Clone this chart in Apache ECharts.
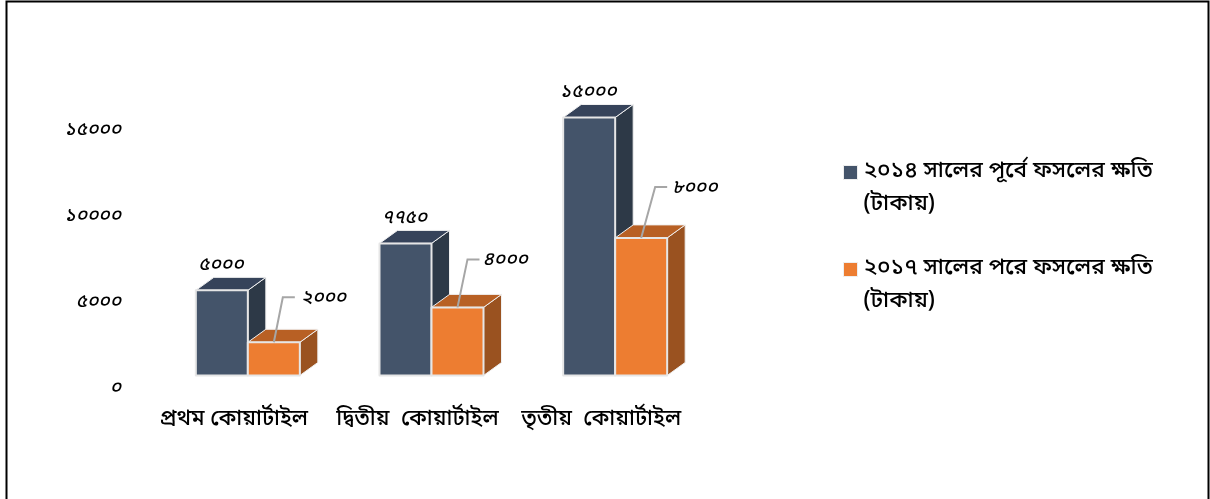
<!DOCTYPE html>
<html><head><meta charset="utf-8">
<style>html,body{margin:0;padding:0;background:#fff}#c{width:1210px;height:499px}</style>
<script src="https://cdn.jsdelivr.net/npm/echarts@6/dist/echarts.min.js"></script>
</head><body><div id="c"></div>
<script>
const categories = ['প্রথম কোয়ার্টাইল', 'দ্বিতীয়  কোয়ার্টাইল', 'তৃতীয়  কোয়ার্টাইল'];
const before2014 = [4950, 7680, 15000];
const after2017 = [1930, 3960, 8000];
const before2014Labels = ['৫০০০', '৭৭৫০', '১৫০০০'];
const after2017Labels = ['২০০০', '৪০০০', '৮০০০'];
const yTickLabels = {0: '০', 5000: '৫০০০', 10000: '১০০০০', 15000: '১৫০০০'};
const seriesNames = ['২০১৪ সালের পূর্বে ফসলের ক্ষতি\n(টাকায়)', '২০১৭ সালের পরে ফসলের ক্ষতি\n(টাকায়)'];

const FONT = '"Noto Sans Bengali","Noto Serif Bengali","Lohit Bengali","Noto Sans","DejaVu Sans",sans-serif';
const DEPTH_X = 18, DEPTH_Y = 13;
const COLORS = [
  {front: '#44546a', top: '#36435a', side: '#2d3947'},
  {front: '#ed7d31', top: '#b86024', side: '#9a5220'}
];
const LEADER_RISE = [45, 48, 51];
const LEADER_BEND = [9, 10, 14];
const LEADER_RUN = [21, 22, 26];
const LABEL_GAP = [27, 25, 31];
const NUM_FONT = 'italic 500 19px ' + FONT;

function box(api, seriesIndex, labelText) {
  const idx = api.value(0), val = api.value(1);
  const [cx, y1] = api.coord([idx, val]);
  const [, y0] = api.coord([idx, 0]);
  const w = 52;
  const x0 = seriesIndex === 0 ? cx - w : cx;
  const x1 = x0 + w;
  const c = COLORS[seriesIndex];
  const edge = {stroke: '#e6e6e6', lineWidth: 2, lineJoin: 'round'};
  const children = [
    {type: 'polygon', shape: {points: [[x1, y1], [x1 + DEPTH_X, y1 - DEPTH_Y], [x1 + DEPTH_X, y0 - DEPTH_Y], [x1, y0]]}, style: {fill: c.side, stroke: '#f0f0f0', lineWidth: 1}},
    {type: 'polygon', shape: {points: [[x0, y1], [x0 + DEPTH_X, y1 - DEPTH_Y], [x1 + DEPTH_X, y1 - DEPTH_Y], [x1, y1]]}, style: {fill: c.top, stroke: '#f0f0f0', lineWidth: 1}},
    {type: 'rect', shape: {x: x0, y: y1, width: w, height: y0 - y1}, style: Object.assign({fill: c.front}, edge)}
  ];
  if (seriesIndex === 0) {
    children.push({type: 'text', style: {text: labelText, x: x0 + 25, y: y1 - 24, align: 'center', verticalAlign: 'middle', font: NUM_FONT, fill: '#000'}});
  } else {
    const rise = LEADER_RISE[idx];
    const mx = x0 + 26;
    children.push({type: 'polyline', shape: {points: [[mx, y1], [mx + LEADER_BEND[idx], y1 - rise], [mx + LEADER_RUN[idx], y1 - rise]]}, style: {fill: 'none', stroke: '#a6a6a6', lineWidth: 2}});
    children.push({type: 'text', style: {text: labelText, x: mx + LABEL_GAP[idx], y: y1 - rise + 2, align: 'left', verticalAlign: 'middle', font: NUM_FONT, fill: '#000'}});
  }
  return {type: 'group', children};
}

const chart = echarts.init(document.getElementById('c'), null, {renderer: 'canvas'});
chart.setOption({
  animation: false,
  backgroundColor: '#fff',
  graphic: [{type: 'rect', silent: true, z: 100, shape: {x: 6.5, y: 1.5, width: 1202, height: 520}, style: {fill: 'none', stroke: '#000', lineWidth: 2}}],
  grid: {left: 156, width: 551, top: 117.5, height: 258},
  xAxis: {type: 'category', data: categories, axisLine: {show: false}, axisTick: {show: false},
    axisLabel: {interval: 0, color: '#000', fontFamily: FONT, fontWeight: 500, fontSize: 22, margin: 34, padding: [0, 28, 0, 0]}},
  yAxis: {type: 'value', min: 0, max: 15000, interval: 5000, axisLine: {show: false}, axisTick: {show: false}, splitLine: {show: false},
    axisLabel: {color: '#000', fontFamily: FONT, fontStyle: 'italic', fontWeight: 500, fontSize: 19, lineHeight: 27, verticalAlign: 'top', margin: 35, formatter: v => yTickLabels[v]}},
  legend: {orient: 'vertical', left: 843, top: 123, padding: 0, itemWidth: 14, itemHeight: 14, itemGap: -2, icon: 'rect',
    data: seriesNames, itemStyle: {borderColor: '#eee', borderWidth: 1},
    formatter: name => '\n' + name,
    textStyle: {color: '#000', fontFamily: FONT, fontWeight: 500, fontSize: 22.7, lineHeight: 33, padding: [0, 0, 0, 1]}},
  series: [
    {name: seriesNames[0], type: 'custom', itemStyle: {color: COLORS[0].front}, encode: {x: 0, y: 1},
     data: before2014.map((v, i) => [i, v]), renderItem: (p, api) => box(api, 0, before2014Labels[api.value(0)])},
    {name: seriesNames[1], type: 'custom', itemStyle: {color: COLORS[1].front}, encode: {x: 0, y: 1},
     data: after2017.map((v, i) => [i, v]), renderItem: (p, api) => box(api, 1, after2017Labels[api.value(0)])}
  ]
});
</script></body></html>
